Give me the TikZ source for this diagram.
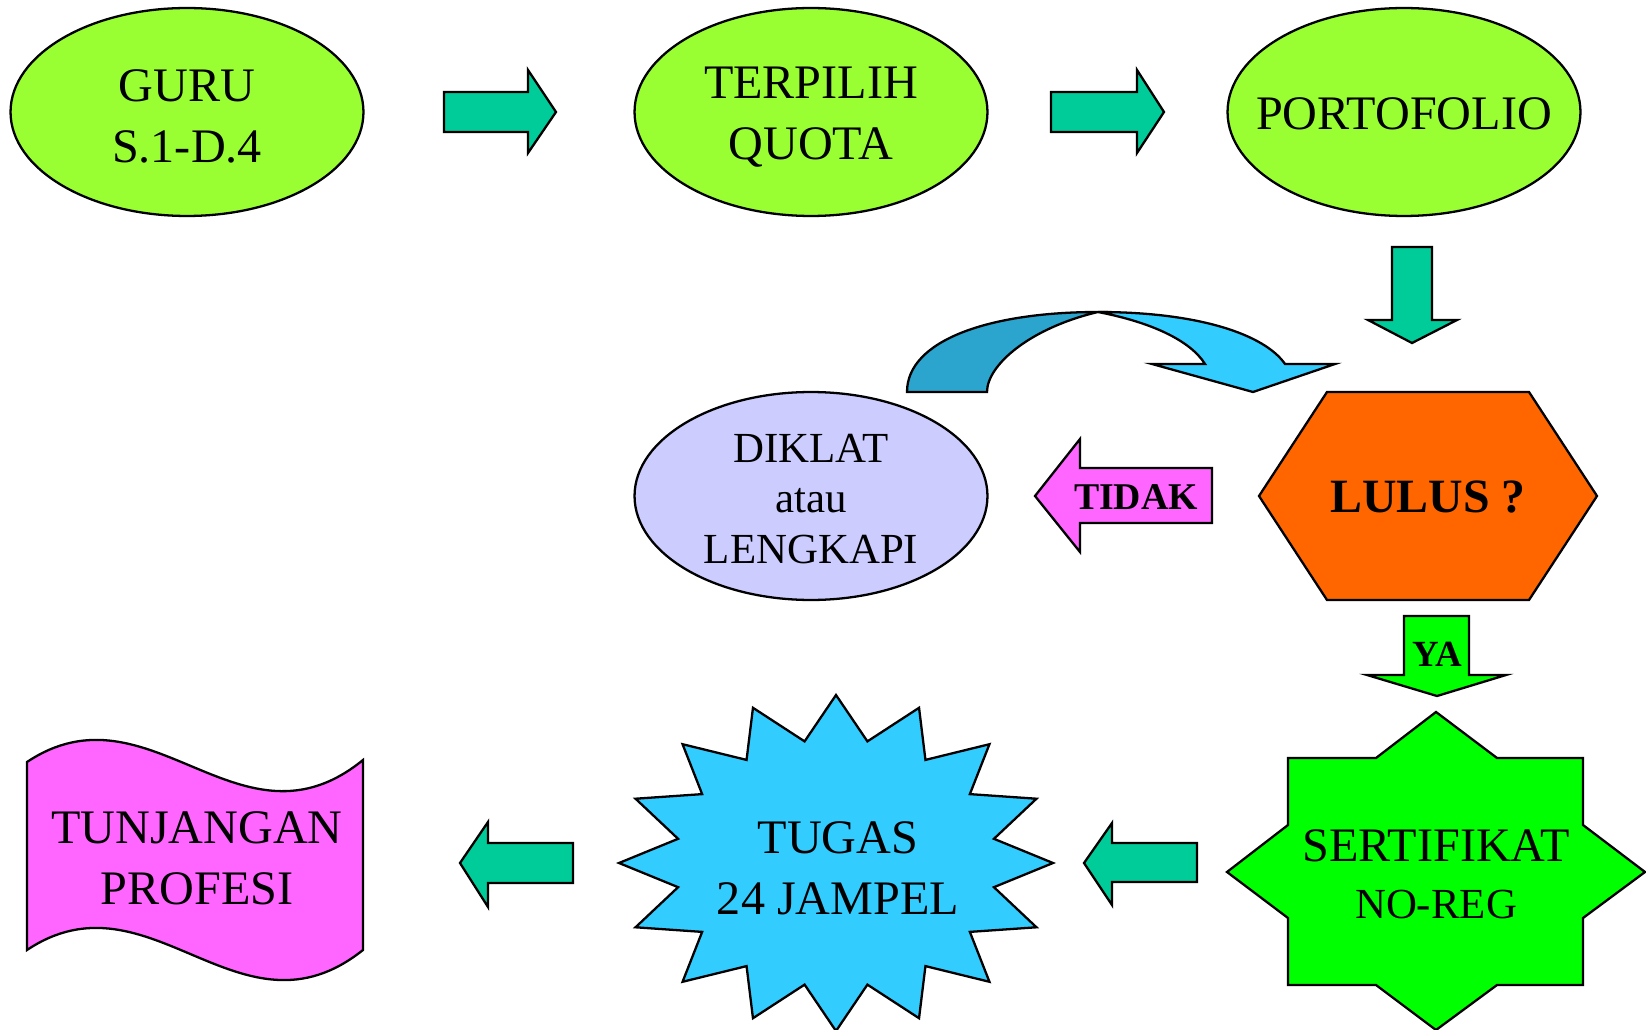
\documentclass[tikz,border=0pt]{standalone}
\usepackage{fontspec}
\setmainfont{Liberation Serif}
\usepackage{tikz}
\usetikzlibrary{shapes.geometric, positioning}

\definecolor{ovalgreen}{HTML}{99FF33}
\definecolor{arrowteal}{HTML}{00CC99}
\definecolor{diklatblue}{HTML}{CCCCFF}
\definecolor{pinkish}{HTML}{FF66FF}
\definecolor{hexorange}{HTML}{FF6600}
\definecolor{brightgreen}{HTML}{00FF00}
\definecolor{skyblue}{HTML}{33CCFF}
\definecolor{darksky}{HTML}{2BA5CE}

\tikzset{
    ovalbox/.style={ellipse, draw, line width=1.3pt, minimum width=7.06cm, minimum height=4.16cm, inner sep=0pt},
    blockarrow/.style={draw, line width=1.3pt, line join=miter, fill=arrowteal},
    shapeline/.style={draw, line width=1.3pt, line join=miter},
    txt/.style={inner sep=0pt, align=center, font=\fontsize{27.4}{34.5}\selectfont}
}

\begin{document}
\begin{tikzpicture}[x=0.02cm, y=-0.02cm]
                    \useasboundingbox (0,0) rectangle (1646,1030);

                    \node[ovalbox, fill=ovalgreen] (guru) at (187,112) {};
                    \node[ovalbox, fill=ovalgreen] (terpilih) at (811,112) {};
                    \node[ovalbox, fill=ovalgreen] (porto) at (1404,112) {};
                    \node[ovalbox, fill=diklatblue] (diklat) at (811,496) {};
                    \node[txt] (gurutext) at ([yshift=-0.09cm]guru.center) {GURU\\S.1-D.4};
                    \node[txt] (terpilihtext) at ([yshift=-0.1cm]terpilih.center) {TERPILIH\\QUOTA};
                    \node[txt] (portotext) at ([yshift=-0.04cm]porto.center) {PORTOFOLIO};
                    \node[txt, font=\fontsize{24.4}{28.8}\selectfont] (diklattext) at ([yshift=-0.06cm]diklat.center) {DIKLAT\\atau\\LENGKAPI};

                    \draw[blockarrow] (444,92) -- (528,92) -- (528,70) -- (556,112) -- (528,153) -- (528,132) -- (444,132) -- cycle;
                    \draw[blockarrow] (1051,92) -- (1137,92) -- (1137,70) -- (1164,112) -- (1137,153) -- (1137,132) -- (1051,132) -- cycle;
                    \draw[blockarrow] (1392,247) -- (1432,247) -- (1432,320) -- (1457,320) -- (1412,343) -- (1368,320) -- (1392,320) -- cycle;
                    \draw[blockarrow] (1197,843) -- (1112,843) -- (1112,823) -- (1084,863) -- (1112,905) -- (1112,882) -- (1197,882) -- cycle;
                    \draw[blockarrow] (573,843) -- (488,843) -- (488,822) -- (460,863) -- (488,907) -- (488,883) -- (573,883) -- cycle;

                    \draw[shapeline, fill=darksky] (907,392) .. controls (907,340) and (990,312) .. (1098,312)
                        .. controls (1030,328) and (987,365) .. (987,392) -- cycle;
                    \draw[shapeline, fill=skyblue] (1098,312) .. controls (1200,312) and (1265,335) .. (1285,364)
                        -- (1335,364) -- (1253,392) -- (1152,364) -- (1205,364)
                        .. controls (1190,340) and (1150,322) .. (1098,312) -- cycle;

                    \draw[shapeline, fill=hexorange] (1259,496) -- (1327,392) -- (1529,392) -- (1597,496) -- (1529,600) -- (1327,600) -- cycle;
                    \node[txt, font=\fontsize{27.2}{30}\selectfont\bfseries] (lulus) at (1428,497) {LULUS ?};

                    \draw[shapeline, fill=pinkish] (1212,468) -- (1080,468) -- (1080,439) -- (1035,496) -- (1080,552) -- (1080,523) -- (1212,523) -- cycle;
                    \node[txt, font=\fontsize{21.5}{25}\selectfont\bfseries] (tidak) at (1136,497) {TIDAK};

                    \draw[shapeline, fill=brightgreen] (1404,616) -- (1469,616) -- (1469,675) -- (1506,675) -- (1437,696) -- (1367,675) -- (1404,675) -- cycle;
                    \node[txt, font=\fontsize{21}{25}\selectfont\bfseries] (ya) at (1437,654) {YA};

                    \draw[shapeline, fill=brightgreen] (1436,712) -- (1497,758) -- (1583,758) -- (1583,825) -- (1645,872) -- (1583,918)
                        -- (1583,985) -- (1497,985) -- (1436,1030) -- (1376,985) -- (1288,985) -- (1288,918) -- (1227,872)
                        -- (1288,825) -- (1288,758) -- (1376,758) -- cycle;
                    \node[txt] (sertifikat) at (1436,874) {SERTIFIKAT\\[-2pt]{\fontsize{24.4}{28}\selectfont NO-REG}};

                    \draw[shapeline, fill=skyblue, shift={(836,863)}] (0:217 and 168)
                        \foreach \i in {0,...,15} { -- ({\i*22.5+11.25}:161 and 124) -- ({(\i+1)*22.5}:217 and 168) } -- cycle;
                    \node[txt] (tugas) at (838,868) {TUGAS\\24 JAMPEL};

                    \draw[shapeline, fill=pinkish] (27,762) .. controls (150,680) and (240,860) .. (363,760)
                        -- (363,950) .. controls (240,1048) and (150,868) .. (27,950) -- cycle;
                    \node[txt] (tunjangan) at (197,858) {TUNJANGAN\\PROFESI};
                \end{tikzpicture}
\end{document}
